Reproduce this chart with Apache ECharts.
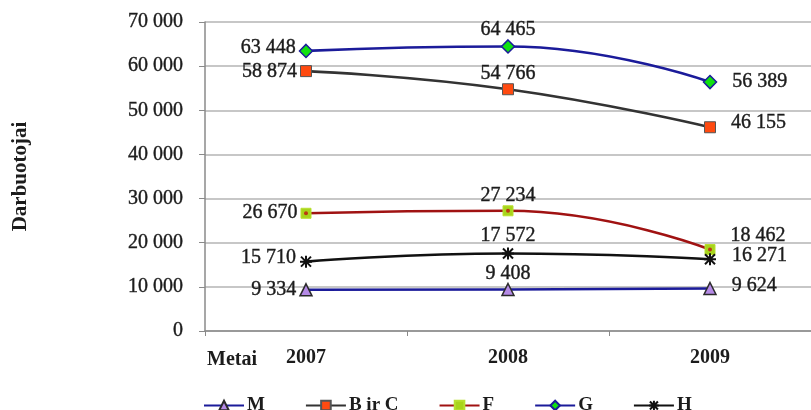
<!DOCTYPE html>
<html>
<head>
<meta charset="utf-8">
<script src="https://cdn.jsdelivr.net/npm/echarts@6/dist/echarts.min.js"></script>
<style>html,body{margin:0;padding:0;background:#fff;}#c{width:811px;height:410px;}</style>
</head>
<body>
<div id="c"></div>
<script>
const categories = ['2007', '2008', '2009'];
const seriesNames = ['M', 'B ir C', 'F', 'G', 'H'];
const valuesM = [9334, 9408, 9624];
const valuesBC = [58874, 54766, 46155];
const valuesF = [26670, 27234, 18462];
const valuesG = [63448, 64465, 56389];
const valuesH = [15710, 17572, 16271];
const yTicks = [0, 10000, 20000, 30000, 40000, 50000, 60000, 70000];

const FONT = '"Liberation Serif", "DejaVu Serif", serif';
const TXT = '#1c1c1c';
function fmt(v) { return String(v).replace(/\B(?=(\d{3})+(?!\d))/g, ' '); }

// label placement per point: [2007, 2008, 2009]
const labelCfg = {
  'M':      [{position:'left', distance:3, offset:[0,0]}, {position:'top', distance:2, offset:[0,3]}, {position:'right', distance:15, offset:[0,-3]}],
  'B ir C': [{position:'left', distance:3, offset:[0,1]}, {position:'top', distance:2, offset:[0,3]}, {position:'right', distance:15, offset:[0,-5]}],
  'F':      [{position:'left', distance:3, offset:[0,-1]}, {position:'top', distance:2, offset:[0,2]}, {position:'right', distance:15, offset:[0,-14]}],
  'G':      [{position:'left', distance:3, offset:[0,-3]}, {position:'top', distance:2, offset:[0,3]}, {position:'right', distance:15, offset:[0,0]}],
  'H':      [{position:'left', distance:3, offset:[0,-4]}, {position:'top', distance:2, offset:[0,1]}, {position:'right', distance:15, offset:[0,-3]}]
};

const asterisk = 'path://M1,1L11,11M11,1L1,11M6,0L6,12M0,6L12,6';

const styles = {
  'M':      {line:'#1b1b9a', symbol:'triangle', size:12, fill:'#b58ae6', border:'#2a2a2a', bw:1.5},
  'B ir C': {line:'#333333', symbol:'rect', size:11, fill:'#ff4a10', border:'#555555', bw:1},
  'F':      {line:'#a01212', symbol:'rect', size:10, fill:'#a8d41c', border:'#b8e030', bw:1},
  'G':      {line:'#1b1b9a', symbol:'diamond', size:13, fill:'#11e011', border:'#1b1b9a', bw:1.5},
  'H':      {line:'#111111', symbol:asterisk, size:12, fill:'transparent', border:'#111111', bw:2}
};

const allValues = [valuesM, valuesBC, valuesF, valuesG, valuesH];

const series = seriesNames.map((name, si) => {
  const st = styles[name];
  return {
    name: name,
    type: 'line',
    smooth: 0.5,
    symbol: st.symbol,
    symbolSize: st.size,
    showAllSymbol: true,
    lineStyle: {color: st.line, width: 2.6},
    itemStyle: {color: st.fill, borderColor: st.border, borderWidth: st.bw},
    data: allValues[si].map((v, i) => ({
      value: v,
      label: Object.assign({show: true}, labelCfg[name][i])
    })),
    label: {
      show: true,
      formatter: p => fmt(p.value),
      fontFamily: FONT,
      fontSize: 20,
      color: TXT,
      textBorderColor: TXT,
      textBorderWidth: 0.4
    },
    z: 3 + si
  };
});

// red centre dot of the F markers
series.push({
  name: 'F',
  type: 'scatter',
  symbol: 'circle',
  symbolSize: 4,
  itemStyle: {color: '#c01010'},
  data: valuesF,
  silent: true,
  z: 20
});

const chart = echarts.init(document.getElementById('c'), null, {renderer: 'canvas'});
chart.setOption({
  animation: false,
  backgroundColor: '#fff',
  grid: {left: 205, right: -5, top: 22, bottom: 79, containLabel: false},
  xAxis: {
    type: 'category',
    data: categories,
    boundaryGap: true,
    axisLine: {lineStyle: {color: '#8a8a8a', width: 1.5}},
    axisTick: {show: true, length: 5, lineStyle: {color: '#8a8a8a'}},
    axisLabel: {fontFamily: FONT, fontSize: 20, color: TXT, fontWeight: 'bold', margin: 17}
  },
  yAxis: {
    type: 'value',
    min: yTicks[0],
    max: yTicks[yTicks.length - 1],
    interval: yTicks[1] - yTicks[0],
    name: 'Darbuotojai',
    nameLocation: 'middle',
    nameGap: 174,
    nameRotate: 90,
    nameTextStyle: {fontFamily: FONT, fontSize: 21, fontWeight: 'bold', color: TXT},
    axisLine: {show: true, lineStyle: {color: '#8a8a8a', width: 1.5}},
    axisTick: {show: true, length: 6, lineStyle: {color: '#8a8a8a'}},
    splitLine: {show: true, lineStyle: {color: '#b4b4b4', width: 1.5}},
    axisLabel: {fontFamily: FONT, fontSize: 20, color: TXT, margin: 22, formatter: v => fmt(v),
      textBorderColor: TXT, textBorderWidth: 0.4}
  },
  legend: {
    data: seriesNames,
    left: 198,
    top: 391,
    itemWidth: 40,
    itemHeight: 12,
    itemGap: 40,
    textStyle: {fontFamily: FONT, fontSize: 19, fontWeight: 'bold', color: TXT, padding: [0, 0, 0, -2]}
  },
  graphic: [{
    type: 'text',
    left: 207,
    top: 350,
    style: {text: 'Metai', font: 'bold 20px ' + FONT, fill: TXT}
  }],
  series: series
});
</script>
</body>
</html>
